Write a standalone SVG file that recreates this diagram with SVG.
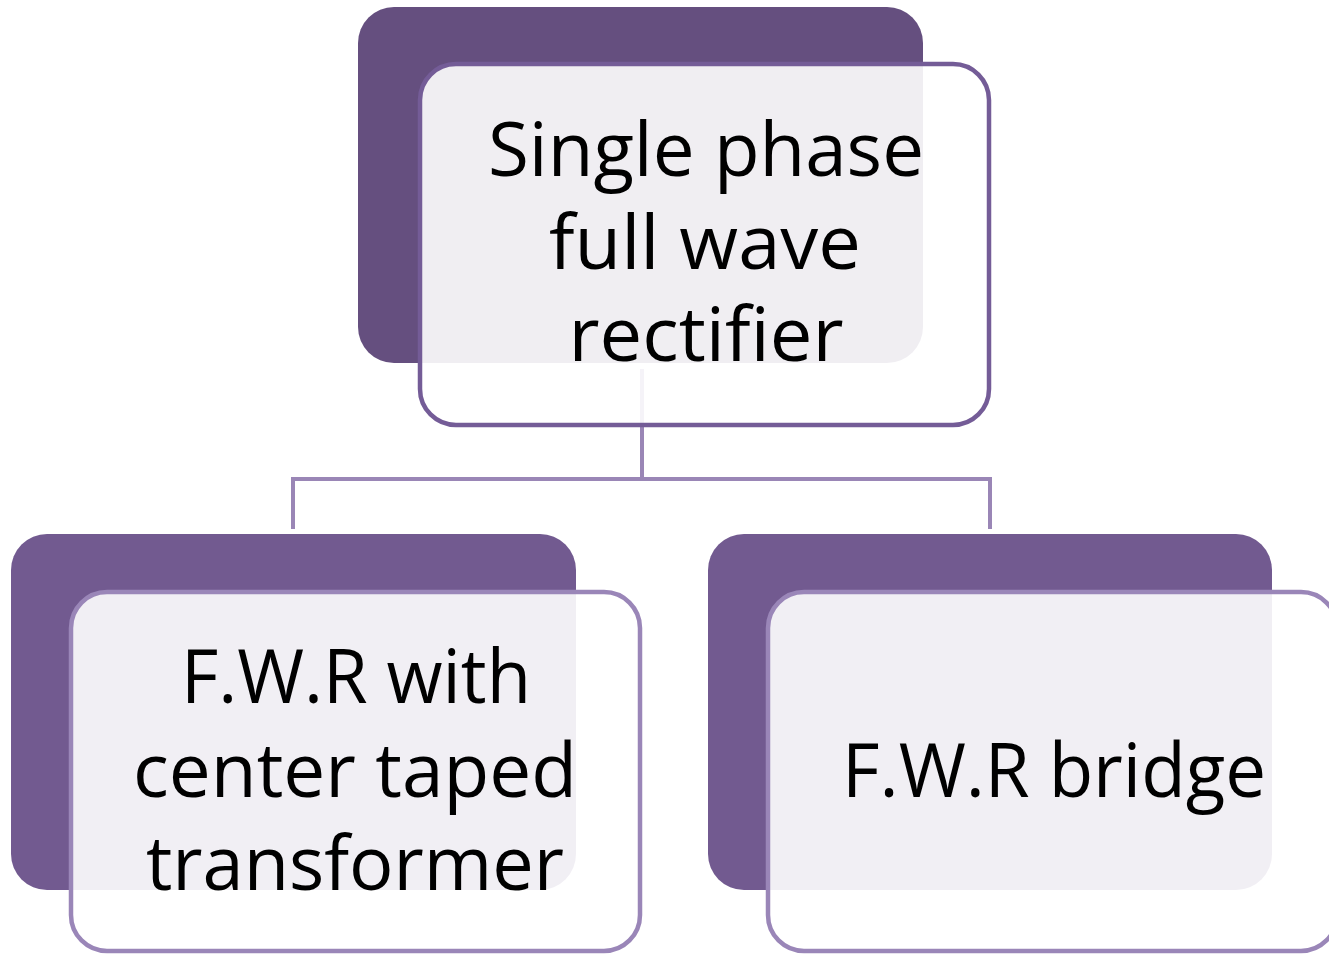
<svg xmlns="http://www.w3.org/2000/svg" width="1329" height="955" viewBox="0 0 1329 955">
  <style>
    .back-top { fill: #654F7F; }
    .back { fill: #725A90; }
    .front { fill: #FFFFFF; fill-opacity: 0.9; stroke-width: 4.5; }
    .front-top { stroke: #745C97; }
    .front-low { stroke: #9A86B8; }
    .link { fill: none; stroke: #9A86B6; stroke-width: 4; }
    .label { font-family: "Open Sans", "Liberation Sans", sans-serif; font-size: 75px; fill: #000000; text-anchor: middle; }
  </style>
  <rect width="1329" height="955" fill="#FFFFFF"/>

  <!-- connectors -->
  <g id="connectors">
    <path class="link" d="M642 369 V479 M293 529 V479 H990 V529"/>
  </g>

  <!-- root node -->
  <g id="node-root">
    <rect class="back-top" x="358" y="7" width="565" height="356" rx="36"/>
    <rect class="front front-top" x="420" y="64" width="569" height="361" rx="36"/>
    <text class="label" x="706" y="176" textLength="436" lengthAdjust="spacingAndGlyphs">Single phase</text>
    <text class="label" x="705" y="269" textLength="312" lengthAdjust="spacingAndGlyphs">full wave</text>
    <text class="label" x="706" y="361" textLength="275" lengthAdjust="spacingAndGlyphs">rectifier</text>
  </g>

  <!-- left child -->
  <g id="node-center-tapped">
    <rect class="back" x="11" y="534" width="565" height="356" rx="36"/>
    <rect class="front front-low" x="71" y="592" width="569" height="359" rx="36"/>
    <text class="label" x="356" y="703" textLength="350" lengthAdjust="spacingAndGlyphs">F.W.R with</text>
    <text class="label" x="355" y="797" textLength="444" lengthAdjust="spacingAndGlyphs">center taped</text>
    <text class="label" x="355" y="890" textLength="418" lengthAdjust="spacingAndGlyphs">transformer</text>
  </g>

  <!-- right child -->
  <g id="node-bridge">
    <rect class="back" x="708" y="534" width="564" height="356" rx="36"/>
    <rect class="front front-low" x="768" y="592" width="569" height="359" rx="36"/>
    <text class="label" x="1054" y="797" textLength="424" lengthAdjust="spacingAndGlyphs">F.W.R bridge</text>
  </g>
</svg>
